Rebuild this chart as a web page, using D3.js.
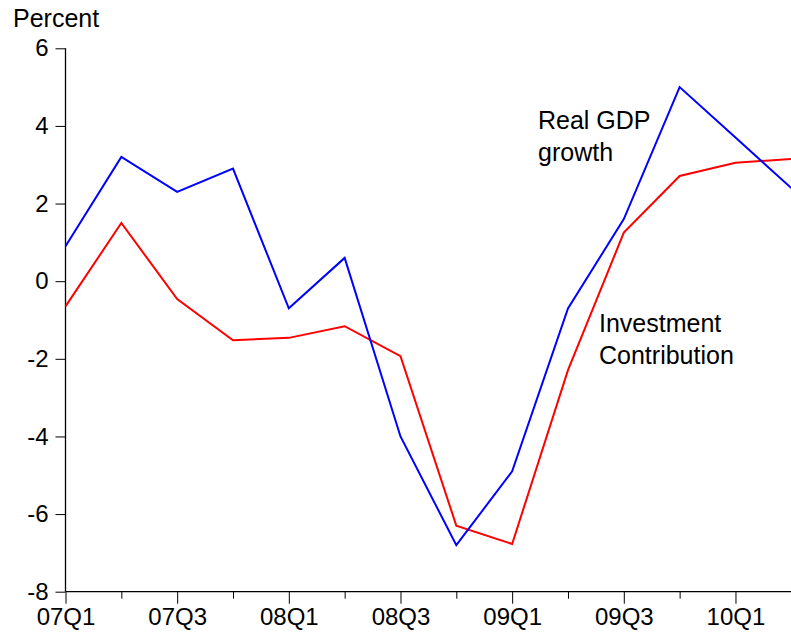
<!DOCTYPE html>
<html>
<head>
<meta charset="utf-8">
<script src="https://cdn.jsdelivr.net/npm/d3@7"></script>
<style>
  body { margin: 0; background: #fff; }
  svg { display: block; font-family: "Liberation Sans", Arial, sans-serif; }
</style>
</head>
<body>
<div id="chart"></div>
<script>
// quarters and the two series (percent)
const quarters = ["07Q1","07Q2","07Q3","07Q4","08Q1","08Q2","08Q3","08Q4",
                  "09Q1","09Q2","09Q3","09Q4","10Q1","10Q2"];
const gdpGrowth = [0.9, 3.2, 2.3, 2.9, -0.7, 0.6, -4.0, -6.8, -4.9, -0.7, 1.6, 5.0, 3.7, 2.4];
const investContrib = [-0.65, 1.5, -0.46, -1.52, -1.46, -1.16, -1.93, -6.3, -6.77, -2.29, 1.25, 2.71, 3.05, 3.15];
const yTicks = [-8, -6, -4, -2, 0, 2, 4, 6];

const width = 791, height = 634;
const plotLeft = 65.5, plotRight = 791.3, plotTop = 48.3, plotBottom = 591.7;

const svg = d3.select("#chart").append("svg")
  .attr("width", width)
  .attr("height", height);

// scales
const x = d3.scaleLinear().domain([0, quarters.length - 1]).range([plotLeft, plotRight]);
const y = d3.scaleLinear().domain([-8, 6]).range([plotBottom, plotTop]);

// y axis (plain hyphen for negatives, like the original)
const yAxis = svg.append("g")
  .attr("transform", "translate(" + plotLeft + ",0)")
  .call(d3.axisLeft(y).tickValues(yTicks).tickSize(10).tickPadding(7).tickFormat(d => String(d)));
yAxis.select(".domain").attr("d", "M0," + plotTop + "V" + plotBottom).attr("stroke", "#000").attr("stroke-width", 1.3);
yAxis.selectAll("text").style("font-size", "24px").attr("fill", "#000");

// x axis: minor ticks every quarter, major labelled ticks every second quarter
const idx = d3.range(quarters.length - 1);
const xMinor = svg.append("g")
  .attr("transform", "translate(0," + plotBottom + ")")
  .call(d3.axisBottom(x).tickValues(idx.filter(i => i % 2 == 1)).tickSize(7).tickFormat(""));
xMinor.select(".domain").remove();

const xAxis = svg.append("g")
  .attr("transform", "translate(0," + plotBottom + ")")
  .call(d3.axisBottom(x).tickValues(idx.filter(i => i % 2 == 0)).tickSize(12).tickPadding(4.5)
    .tickFormat(i => quarters[i]));
xAxis.select(".domain").attr("d", "M" + plotLeft + ",0H" + width).attr("stroke", "#000").attr("stroke-width", 1.3);
xAxis.selectAll("text").style("font-size", "24px").attr("fill", "#000");

svg.selectAll("g").attr("font-family", null);
svg.selectAll(".tick line").attr("stroke", "#000");

// lines
const line = d3.line().x((d, i) => x(i)).y(d => y(d));

svg.append("path")
  .datum(investContrib)
  .attr("fill", "none")
  .attr("stroke", "#ff0000")
  .attr("stroke-width", 2)
  .attr("d", line);

svg.append("path")
  .datum(gdpGrowth)
  .attr("fill", "none")
  .attr("stroke", "#0000ff")
  .attr("stroke-width", 2)
  .attr("d", line);

// text
svg.append("text").attr("x", 13).attr("y", 27).style("font-size", "25px").text("Percent");

function label(lines, lx, ly) {
  const t = svg.append("text").attr("x", lx).attr("y", ly).style("font-size", "25px");
  lines.forEach((s, i) => t.append("tspan").attr("x", lx).attr("dy", i == 0 ? 0 : 32).text(s));
}
label(["Real GDP", "growth"], 538, 129);
label(["Investment", "Contribution"], 599, 332);
</script>
</body>
</html>
